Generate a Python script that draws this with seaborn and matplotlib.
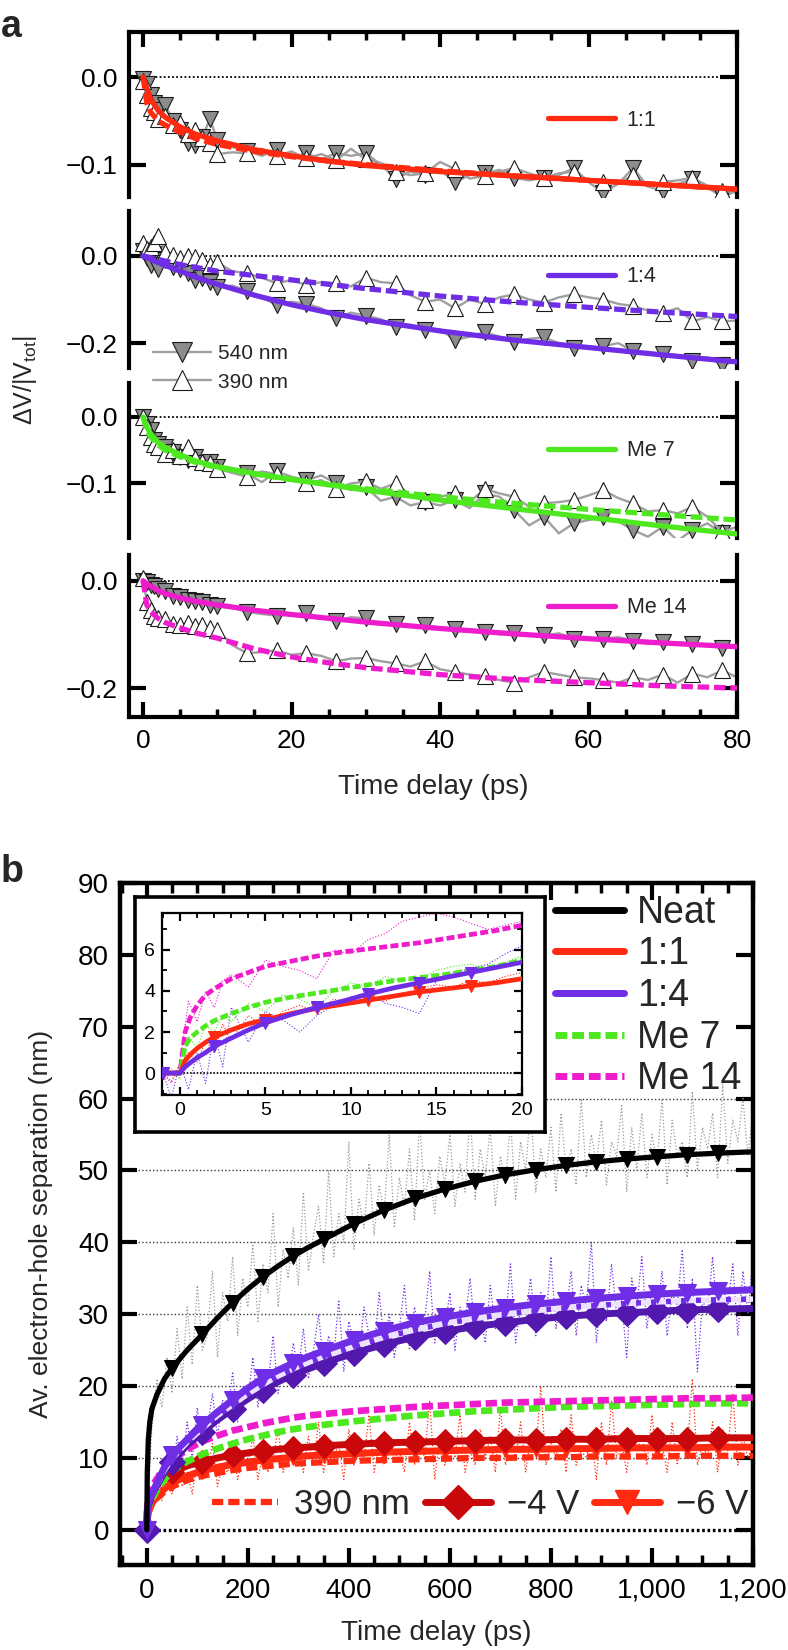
import matplotlib.pyplot as plt
from matplotlib.lines import Line2D
from matplotlib.ticker import MultipleLocator, FuncFormatter
import seaborn as sns

# ---------------- panel a data ----------------
t_raw = [0, 0.5, 1, 1.5, 2, 3, 4, 5, 6, 7, 8, 9, 10,
         12, 14, 16, 18, 20, 22, 24, 26, 28, 30, 32, 34, 36, 38, 40, 42, 44, 46,
         48, 50, 52, 54, 56, 58, 60, 62, 64, 66, 68, 70, 72, 74, 76, 78, 80]
t_fit = [0, 0.5, 1, 2, 3, 5, 7, 10, 15, 20, 25, 30, 40, 50, 60, 70, 80]

s11_540 = [-0.002, -0.008, -0.02, -0.03, -0.038, -0.032, -0.05, -0.06, -0.075, -0.078, -0.068, -0.048, -0.072,
           -0.08, -0.084, -0.09, -0.083, -0.092, -0.087, -0.094, -0.087, -0.09, -0.087, -0.1, -0.116,
           -0.108, -0.112, -0.106, -0.12, -0.112, -0.11, -0.106, -0.115, -0.118, -0.115, -0.112, -0.104,
           -0.12, -0.132, -0.122, -0.104, -0.125, -0.13, -0.122, -0.117, -0.126, -0.137, -0.13]
s11_390 = [-0.005, -0.02, -0.035, -0.04, -0.048, -0.045, -0.055, -0.052, -0.065, -0.06, -0.07, -0.075, -0.088,
           -0.086, -0.087, -0.082, -0.09, -0.085, -0.093, -0.088, -0.095, -0.082, -0.094, -0.098, -0.108,
           -0.112, -0.11, -0.097, -0.105, -0.116, -0.113, -0.108, -0.104, -0.11, -0.115, -0.11, -0.108,
           -0.118, -0.12, -0.122, -0.112, -0.125, -0.12, -0.118, -0.115, -0.124, -0.13, -0.132]
s14_540 = [0.012, -0.005, -0.02, 0.005, -0.03, -0.01, -0.025, -0.03, -0.04, -0.055, -0.05, -0.06, -0.072,
           -0.068, -0.08, -0.095, -0.113, -0.105, -0.11, -0.12, -0.143, -0.13, -0.137, -0.145, -0.163,
           -0.158, -0.17, -0.168, -0.193, -0.185, -0.175, -0.185, -0.198, -0.19, -0.187, -0.2, -0.21,
           -0.212, -0.207, -0.2, -0.218, -0.225, -0.224, -0.228, -0.24, -0.232, -0.25, -0.242]
s14_390 = [0.03, 0.015, 0.02, 0.03, 0.045, 0.01, 0.002, -0.005, 0.0, -0.002, -0.01, -0.02, -0.015,
           -0.035, -0.04, -0.05, -0.063, -0.055, -0.067, -0.06, -0.063, -0.07, -0.05, -0.06, -0.063,
           -0.09, -0.105, -0.1, -0.12, -0.1, -0.11, -0.095, -0.088, -0.1, -0.107, -0.095, -0.088,
           -0.095, -0.1, -0.11, -0.115, -0.125, -0.13, -0.12, -0.15, -0.14, -0.15, -0.148]
sme7_540 = [0.0, -0.01, -0.02, -0.035, -0.04, -0.045, -0.052, -0.06, -0.065, -0.06, -0.07, -0.068, -0.075,
            -0.082, -0.085, -0.098, -0.082, -0.09, -0.095, -0.088, -0.1, -0.11, -0.105, -0.126, -0.12,
            -0.133, -0.128, -0.133, -0.125, -0.137, -0.115, -0.12, -0.14, -0.163, -0.15, -0.175, -0.16,
            -0.155, -0.15, -0.157, -0.17, -0.18, -0.165, -0.186, -0.17, -0.16, -0.175, -0.19]
sme7_390 = [0.0, -0.015, -0.03, -0.04, -0.045, -0.055, -0.05, -0.058, -0.045, -0.062, -0.068, -0.07, -0.078,
            -0.084, -0.09, -0.082, -0.086, -0.095, -0.1, -0.095, -0.108, -0.1, -0.097, -0.108, -0.1,
            -0.118, -0.125, -0.12, -0.115, -0.128, -0.108, -0.115, -0.12, -0.135, -0.13, -0.128, -0.125,
            -0.118, -0.11, -0.122, -0.13, -0.142, -0.14, -0.145, -0.135, -0.15, -0.173, -0.165]
sme14_540 = [0.0, -0.002, -0.008, -0.01, -0.015, -0.02, -0.028, -0.03, -0.035, -0.038, -0.04, -0.045, -0.048,
             -0.05, -0.058, -0.062, -0.065, -0.063, -0.06, -0.07, -0.075, -0.068, -0.07, -0.082, -0.08,
             -0.085, -0.082, -0.088, -0.09, -0.092, -0.095, -0.1, -0.098, -0.1, -0.102, -0.098, -0.108,
             -0.11, -0.108, -0.105, -0.112, -0.118, -0.115, -0.115, -0.118, -0.122, -0.125, -0.12]
sme14_390 = [0.005, -0.04, -0.055, -0.065, -0.07, -0.072, -0.08, -0.082, -0.078, -0.085, -0.082, -0.088, -0.092,
             -0.12, -0.135, -0.133, -0.13, -0.138, -0.135, -0.14, -0.15, -0.145, -0.144, -0.15, -0.154,
             -0.16, -0.15, -0.165, -0.17, -0.175, -0.178, -0.185, -0.19, -0.18, -0.17, -0.175, -0.18,
             -0.182, -0.185, -0.19, -0.18, -0.185, -0.175, -0.19, -0.173, -0.18, -0.167, -0.18]

f11_540 = [0, -0.013, -0.025, -0.038, -0.046, -0.057, -0.065, -0.073, -0.083, -0.09, -0.096, -0.101, -0.108, -0.113, -0.118, -0.123, -0.128]
f11_390 = [0, -0.03, -0.04, -0.05, -0.055, -0.063, -0.07, -0.077, -0.085, -0.091, -0.096, -0.1, -0.107, -0.113, -0.118, -0.123, -0.128]
f14_540 = [0, -0.004, -0.008, -0.015, -0.022, -0.035, -0.048, -0.065, -0.09, -0.112, -0.13, -0.146, -0.172, -0.193, -0.21, -0.227, -0.243]
f14_390 = [0, -0.002, -0.004, -0.008, -0.012, -0.02, -0.026, -0.035, -0.045, -0.055, -0.065, -0.075, -0.092, -0.106, -0.118, -0.129, -0.139]
fme7_540 = [0, -0.015, -0.025, -0.038, -0.046, -0.057, -0.066, -0.075, -0.085, -0.094, -0.102, -0.11, -0.125, -0.138, -0.151, -0.164, -0.176]
fme7_390 = [0, -0.02, -0.03, -0.042, -0.05, -0.06, -0.068, -0.076, -0.086, -0.094, -0.101, -0.108, -0.12, -0.13, -0.139, -0.147, -0.155]
fme14_540 = [0, -0.006, -0.01, -0.018, -0.024, -0.032, -0.038, -0.045, -0.055, -0.063, -0.07, -0.077, -0.089, -0.099, -0.108, -0.116, -0.123]
fme14_390 = [0, -0.045, -0.057, -0.07, -0.078, -0.088, -0.097, -0.107, -0.127, -0.142, -0.153, -0.162, -0.175, -0.184, -0.19, -0.196, -0.2]

a_names = ['1:1', '1:4', 'Me 7', 'Me 14']

# ---------------- panel b data ----------------
t_b = [0, 1, 3, 6, 10, 20, 35, 50, 80, 110, 140, 170, 200, 230, 260, 290, 320, 350,
       410, 470, 530, 590, 650, 710, 770, 830, 890, 950, 1010, 1070, 1130, 1200]
neat = [0, 8, 12.5, 15, 16.8, 18.8, 21, 22.5, 25, 27.2, 29.5, 31.6, 33.5, 35.2, 36.7, 38.1, 39.3, 40.4,
        42.6, 44.5, 46.1, 47.4, 48.5, 49.4, 50.1, 50.7, 51.2, 51.6, 51.9, 52.2, 52.4, 52.6]
r14_6v = [0, 2.5, 3.5, 4.2, 5, 6.5, 8.7, 10.4, 12.6, 14.6, 16.4, 18.1, 19.7, 21.1, 22.2, 23.2, 24.1, 24.9,
          26.4, 27.7, 28.8, 29.6, 30.3, 30.9, 31.4, 31.8, 32.2, 32.5, 32.8, 33.0, 33.2, 33.4]
r14_4v = [0, 2.2, 3.2, 4, 4.8, 6.2, 8, 9.5, 11.8, 13.6, 15.3, 16.8, 18.2, 19.5, 20.6, 21.6, 22.4, 23.2,
          24.6, 25.8, 26.8, 27.6, 28.3, 28.8, 29.3, 29.7, 30.0, 30.2, 30.4, 30.6, 30.7, 30.8]
r14_390 = [0, 2.3, 3.3, 4.1, 4.9, 6.3, 8.3, 9.9, 12.2, 14.1, 15.9, 17.4, 18.9, 20.2, 21.4, 22.4, 23.3, 24.1,
           25.5, 26.8, 27.8, 28.7, 29.4, 30.0, 30.5, 30.9, 31.2, 31.5, 31.7, 31.9, 32.0, 32.1]
r11_4v = [0, 2.5, 3.5, 4.3, 5, 6.2, 7.3, 8, 8.9, 9.5, 10, 10.4, 10.7, 11, 11.2, 11.4, 11.5, 11.7,
          11.9, 12.1, 12.2, 12.3, 12.4, 12.5, 12.5, 12.6, 12.6, 12.7, 12.7, 12.7, 12.8, 12.8]
r11_6v = [0, 1.4, 2.3, 3, 3.7, 4.6, 5.7, 6.5, 7.5, 8.2, 8.7, 9.1, 9.4, 9.7, 9.9, 10.1, 10.3, 10.4,
          10.6, 10.8, 10.9, 11.0, 11.1, 11.2, 11.2, 11.3, 11.3, 11.4, 11.4, 11.4, 11.5, 11.5]
r11_390 = [0, 1.5, 2.3, 2.9, 3.5, 4.4, 5.3, 6, 6.9, 7.5, 7.9, 8.3, 8.6, 8.8, 9.0, 9.2, 9.3, 9.4,
           9.6, 9.7, 9.8, 9.9, 10.0, 10.0, 10.1, 10.1, 10.2, 10.2, 10.2, 10.3, 10.3, 10.3]
rme7 = [0, 2, 3, 3.6, 4.2, 5.5, 7, 8.2, 9.5, 10.5, 11.3, 12, 12.6, 13.1, 13.6, 14, 14.3, 14.6,
        15.1, 15.5, 15.9, 16.2, 16.5, 16.7, 16.9, 17.1, 17.2, 17.3, 17.4, 17.5, 17.6, 17.6]
rme14 = [0, 3.5, 4.6, 5.4, 6, 7.1, 8.5, 9.6, 11.2, 12.3, 13.1, 13.8, 14.3, 14.8, 15.2, 15.6, 15.9, 16.1,
         16.5, 16.8, 17.1, 17.3, 17.5, 17.7, 17.8, 17.9, 18.0, 18.1, 18.2, 18.3, 18.3, 18.4]

# raw traces, one value every 10 ps from 0 to 1200 ps
t_noise = list(range(0, 1201, 10))
neat_raw = [0, 14, 21, 17, 24, 19, 28, 21, 31, 23,
            34, 25, 27, 36, 24, 33, 29, 38, 27, 35,
            31, 40, 29, 37, 33, 44, 31, 39, 35, 42,
            34, 47, 36, 41, 45, 37, 50, 38, 44, 40,
            54, 39, 46, 42, 51, 41, 48, 44, 55, 42,
            49, 45, 53, 43, 57, 46, 50, 44, 52, 48,
            55, 45, 51, 47, 58, 46, 53, 49, 56, 45,
            52, 48, 57, 46, 54, 50, 59, 47, 53, 49,
            56, 47, 58, 50, 53, 48, 60, 49, 55, 51,
            57, 48, 54, 52, 59, 47, 56, 50, 58, 49,
            55, 51, 60, 48, 57, 52, 54, 49, 61, 50,
            56, 53, 58, 49, 62, 51, 57, 54, 60, 52, 58]
r14_raw = [0, 4, 8, 5, 11, 7, 13, 9, 15, 10,
           17, 12, 14, 19, 13, 18, 16, 22, 15, 20,
           18, 24, 17, 22, 20, 27, 19, 23, 21, 26,
           22, 28, 21, 25, 30, 23, 27, 24, 32, 22,
           29, 26, 24, 31, 27, 25, 33, 26, 30, 24,
           28, 34, 25, 31, 27, 29, 36, 26, 30, 28,
           33, 25, 31, 29, 35, 27, 30, 26, 34, 28,
           32, 29, 37, 26, 31, 30, 35, 27, 33, 29,
           38, 28, 32, 30, 36, 27, 34, 31, 40, 26,
           33, 29, 37, 30, 32, 24, 35, 31, 38, 28,
           34, 30, 36, 27, 33, 31, 39, 28, 35, 22,
           32, 30, 38, 29, 34, 31, 37, 27, 36, 30, 38]
r11_raw = [0, 3, 6, 4, 7, 5, 9, 6, 8, 5,
           10, 7, 8, 12, 6, 9, 8, 11, 7, 10,
           9, 13, 7, 11, 8, 10, 14, 8, 12, 9,
           11, 8, 13, 9, 15, 8, 11, 10, 12, 7,
           14, 9, 11, 10, 16, 8, 12, 9, 13, 10,
           11, 8, 15, 9, 12, 10, 18, 7, 13, 9,
           12, 10, 16, 8, 11, 9, 14, 10, 13, 8,
           17, 9, 12, 10, 15, 8, 13, 11, 20, 9,
           12, 10, 14, 8, 16, 9, 11, 10, 13, 7,
           15, 9, 18, 10, 12, 8, 14, 11, 13, 9,
           16, 10, 12, 8, 15, 9, 13, 11, 21, 9,
           12, 10, 15, 8, 14, 11, 19, 9, 13, 10, 12]

# inset (first 20 ps)
t_in = [-1, 0, 0.3, 0.6, 1, 1.5, 2, 3, 4, 5, 6.5, 8, 9.5, 11, 12.5, 14, 15.5, 17, 18.5, 20]
in_11 = [0, 0, 0.6, 0.9, 1.2, 1.5, 1.75, 2.1, 2.4, 2.6, 2.9, 3.15, 3.35, 3.55, 3.75, 3.95, 4.1, 4.25, 4.4, 4.6]
in_14 = [0, 0, 0.3, 0.5, 0.75, 1.0, 1.3, 1.7, 2.1, 2.45, 2.85, 3.2, 3.5, 3.85, 4.15, 4.4, 4.65, 4.9, 5.15, 5.4]
in_me7 = [0, 0, 1.3, 1.7, 2.0, 2.3, 2.55, 2.9, 3.2, 3.45, 3.7, 3.9, 4.1, 4.3, 4.5, 4.65, 4.8, 5.0, 5.2, 5.5]
in_me14 = [0, 0, 2.0, 2.7, 3.3, 3.8, 4.1, 4.6, 4.9, 5.2, 5.45, 5.7, 5.9, 6.05, 6.2, 6.35, 6.55, 6.75, 6.95, 7.2]
t_in_raw = [-1, -0.5, 0, 0.5, 1, 1.5, 2, 2.5, 3, 4, 5, 6, 7, 8, 9, 10, 11, 12, 13, 14, 15, 16, 17, 18, 19, 20]
in_me14_raw = [0, -0.5, 0.5, 3.5, 2.5, 4.0, 3.2, 4.5, 4.8, 4.2, 5.5, 5.2, 5.0, 4.6, 6.0, 5.8, 6.5, 6.8, 7.4, 7.6,
               7.8, 7.6, 7.3, 7.0, 7.2, 7.4]
in_me7_raw = [0, 0.2, -0.3, 1.8, 1.2, 2.3, 2.0, 2.8, 2.5, 3.4, 3.0, 3.8, 3.6, 3.2, 4.0, 4.4, 4.2, 4.7, 4.5, 4.6,
              5.0, 5.2, 5.3, 5.1, 5.4, 5.7]
in_11_raw = [0, -0.4, 0.4, 1.0, 0.5, 1.6, 1.0, 2.4, 1.6, 2.8, 2.2, 3.0, 3.3, 3.0, 3.6, 3.4, 3.7, 3.5, 3.9, 4.1,
             4.3, 4.2, 4.5, 4.4, 4.7, 4.9]
in_14_raw = [0, -1.2, 0.5, -0.8, 1.0, -0.5, 2.0, 0.3, 3.2, 1.5, 3.0, 2.6, 2.0, 2.8, 3.3, 3.6, 3.9, 3.4, 3.2, 2.9,
             4.5, 4.9, 5.1, 5.3, 5.8, 6.2]

RED, DRED = '#ff2a10', '#c8080a'
PURPLE, DPURPLE = '#6f2ee6', '#5318ad'
GREEN, MAGENTA = '#4de81e', '#ee1ccc'

sns.set_theme(style='ticks')
plt.rcParams['font.family'] = ['Liberation Sans', 'DejaVu Sans']
plt.rcParams['mathtext.default'] = 'regular'
plt.rcParams['axes.edgecolor'] = 'black'
plt.rcParams['xtick.color'] = 'black'
plt.rcParams['ytick.color'] = 'black'

W, H = 788, 1650


def px_box(x0, y0, x1, y1):
    return [x0 / W, 1 - y1 / H, (x1 - x0) / W, (y1 - y0) / H]


fig = plt.figure(figsize=(W / 100, H / 100), dpi=100)

# ---------------- panel a ----------------
a_boxes = [(129, 32, 737, 197), (129, 211, 737, 368), (129, 383, 737, 538), (129, 555, 737, 717)]
a_ylims = [(-0.137, 0.0514), (-0.257, 0.103), (-0.182, 0.051), (-0.254, 0.048)]
a_yticks = [[0.0, -0.1], [0.0, -0.2], [0.0, -0.1], [0.0, -0.2]]
a_legy = [120, 277, 451, 608]
a_colors = [RED, PURPLE, GREEN, MAGENTA]
raw540 = [s11_540, s14_540, sme7_540, sme14_540]
raw390 = [s11_390, s14_390, sme7_390, sme14_390]
fit540 = [f11_540, f14_540, fme7_540, fme14_540]
fit390 = [f11_390, f14_390, fme7_390, fme14_390]
mk_raw = [i for i, t in enumerate(t_raw) if t <= 10 or (t >= 14 and (t - 14) % 4 == 0)]
afmt = FuncFormatter(lambda v, p: f'{v:.1f}'.replace('-', '\u2212'))

for i in range(4):
    ax = fig.add_axes(px_box(*a_boxes[i]))
    ax.hlines(0, 0, 80, colors='black', linestyles=(0, (1, 1.3)), lw=1.3, zorder=1)
    sns.lineplot(x=t_raw, y=raw540[i], ax=ax, color='#a0a0a0', lw=1.7, marker='v',
                 markevery=mk_raw, markersize=11, markerfacecolor='#8c8c8c',
                 markeredgecolor='#1a1a1a', markeredgewidth=0.8, legend=False,
                 errorbar=None, zorder=2)
    sns.lineplot(x=t_raw, y=raw390[i], ax=ax, color='#a0a0a0', lw=1.7, marker='^',
                 markevery=mk_raw, markersize=11, markerfacecolor='white',
                 markeredgecolor='#1a1a1a', markeredgewidth=0.8, legend=False,
                 errorbar=None, zorder=2)
    sns.lineplot(x=t_fit, y=fit390[i], ax=ax, color=a_colors[i], lw=3.8, ls=(0, (2.2, 0.9)),
                 legend=False, errorbar=None, zorder=3)
    sns.lineplot(x=t_fit, y=fit540[i], ax=ax, color=a_colors[i], lw=3.8,
                 legend=False, errorbar=None, zorder=3)
    fit_line = ax.lines[-1]
    ax.set_xlim(-1.9, 80)
    ax.set_ylim(*a_ylims[i])
    ax.set_yticks(a_yticks[i])
    ax.yaxis.set_major_formatter(afmt)
    ax.set_xlabel('')
    ax.set_ylabel('')
    for sp in ax.spines.values():
        sp.set_linewidth(3)
    ax.spines['top'].set_visible(i == 0)
    ax.spines['bottom'].set_visible(i == 3)
    ax.tick_params(axis='y', which='major', direction='in', left=True, right=True,
                   length=12, width=3, labelsize=19, pad=8)
    ax.xaxis.set_major_locator(MultipleLocator(20))
    ax.xaxis.set_minor_locator(MultipleLocator(5))
    if i == 0:
        ax.tick_params(axis='x', which='major', direction='in', top=True, bottom=False,
                       labelbottom=False, length=11, width=3)
        ax.tick_params(axis='x', which='minor', direction='in', top=True, bottom=False,
                       length=6, width=2.5)
    elif i == 3:
        ax.tick_params(axis='x', which='major', direction='in', top=False, bottom=True,
                       length=11, width=3, labelsize=19, pad=9)
        ax.tick_params(axis='x', which='minor', direction='in', top=False, bottom=True,
                       length=6, width=2.5)
    else:
        ax.tick_params(axis='x', which='both', top=False, bottom=False, labelbottom=False)
    ax.legend(handles=[fit_line], labels=[a_names[i]], loc='center left',
              bbox_to_anchor=(548 / W, 1 - a_legy[i] / H), bbox_transform=fig.transFigure,
              frameon=False, borderpad=0, borderaxespad=0, handlelength=3.1,
              handletextpad=0.55, fontsize=15.5)

wl_handles = [Line2D([], [], color='#a0a0a0', lw=1.7, marker='v', markersize=14,
                     markerfacecolor='#8c8c8c', markeredgecolor='#1a1a1a', markeredgewidth=0.8),
              Line2D([], [], color='#a0a0a0', lw=1.7, marker='^', markersize=14,
                     markerfacecolor='white', markeredgecolor='#1a1a1a', markeredgewidth=0.8)]
fig.legend(handles=wl_handles, labels=['540 nm', '390 nm'], loc='center left',
           bbox_to_anchor=(153 / W, 1 - 368 / H), frameon=False, borderpad=0,
           borderaxespad=0, handlelength=2.8, handletextpad=0.3, labelspacing=0.45,
           fontsize=15)

fig.text(11 / W, 1 - 27 / H, 'a', fontsize=27, fontweight='bold', ha='center', va='center')
fig.text(433 / W, 1 - 787 / H, 'Time delay (ps)', fontsize=20, ha='center', va='center')
fig.text(25 / W, 1 - 380 / H, 'ΔV/|V$_{tot}$|', fontsize=18, rotation=90,
         ha='center', va='center')

# ---------------- panel b ----------------
axb = fig.add_axes(px_box(120, 883, 753, 1565))
axb.set_zorder(1)
for yv in [10, 20, 30, 40, 50, 60]:
    axb.axhline(yv, color='#3a3a3a', ls=(0, (1, 1.6)), lw=1.0, zorder=0)
axb.hlines(0, 0, 1200, colors='black', linestyles=(0, (0.8, 0.8)), lw=2.4, zorder=1)

sns.lineplot(x=t_noise, y=neat_raw, ax=axb, color='#9a9a9a', lw=0.9, ls=':',
             legend=False, errorbar=None, zorder=1)
sns.lineplot(x=t_noise, y=r14_raw, ax=axb, color=PURPLE, lw=0.9, ls=':',
             legend=False, errorbar=None, zorder=1)
sns.lineplot(x=t_noise, y=r11_raw, ax=axb, color=RED, lw=0.9, ls=':',
             legend=False, errorbar=None, zorder=1)

mk_b = [i for i, t in enumerate(t_b) if t >= 50 and (t - 50) % 60 == 0]
mk_b0 = [0] + mk_b

sns.lineplot(x=t_b, y=r11_390, ax=axb, color=RED, lw=4.5, ls=(0, (1.8, 0.8)),
             legend=False, errorbar=None, zorder=3)
sns.lineplot(x=t_b, y=r11_6v, ax=axb, color=RED, lw=5, marker='v', markevery=mk_b,
             markersize=12, markeredgecolor=RED, legend=False, errorbar=None, zorder=3)
sns.lineplot(x=t_b, y=r11_4v, ax=axb, color=DRED, lw=5, marker='D', markevery=mk_b,
             markersize=12, markeredgecolor=DRED, legend=False, errorbar=None, zorder=3)
sns.lineplot(x=t_b, y=rme7, ax=axb, color=GREEN, lw=4.8, ls=(0, (1.7, 0.7)),
             legend=False, errorbar=None, zorder=3)
sns.lineplot(x=t_b, y=rme14, ax=axb, color=MAGENTA, lw=4.8, ls=(0, (1.7, 0.7)),
             legend=False, errorbar=None, zorder=3)
sns.lineplot(x=t_b, y=r14_4v, ax=axb, color=DPURPLE, lw=5, marker='D', markevery=mk_b0,
             markersize=13, markeredgecolor=DPURPLE, legend=False, errorbar=None, zorder=3)
sns.lineplot(x=t_b, y=r14_390, ax=axb, color='#ece2ff', gapcolor=PURPLE, lw=4,
             ls=(0, (1.8, 0.9)), legend=False, errorbar=None, zorder=3)
sns.lineplot(x=t_b, y=r14_6v, ax=axb, color=PURPLE, lw=5, marker='v', markevery=mk_b0,
             markersize=13, markeredgecolor=PURPLE, legend=False, errorbar=None, zorder=3)
sns.lineplot(x=t_b, y=neat, ax=axb, color='black', lw=3.8, marker='v', markevery=mk_b,
             markersize=12, markeredgecolor='black', legend=False, errorbar=None, zorder=4)

axb.set_xlim(-53, 1200)
axb.set_ylim(-4.9, 90)
axb.set_xlabel('')
axb.set_ylabel('')
axb.xaxis.set_major_locator(MultipleLocator(200))
axb.xaxis.set_minor_locator(MultipleLocator(50))
axb.yaxis.set_major_locator(MultipleLocator(10))
axb.xaxis.set_major_formatter(FuncFormatter(lambda v, p: f'{int(round(v)):,}'))
for sp in axb.spines.values():
    sp.set_linewidth(3.2)
axb.tick_params(axis='x', which='major', direction='in', top=True, bottom=True,
                length=12, width=3, labelsize=20, pad=9)
axb.tick_params(axis='x', which='minor', direction='in', top=True, bottom=True,
                length=7, width=2.5)
axb.tick_params(axis='y', which='major', direction='in', left=True, right=True,
                length=12, width=3, labelsize=20, pad=8)

main_handles = [Line2D([], [], color='black', lw=5),
                Line2D([], [], color=RED, lw=5),
                Line2D([], [], color=PURPLE, lw=5),
                Line2D([], [], color=GREEN, lw=5, ls=(0, (1.7, 0.7))),
                Line2D([], [], color=MAGENTA, lw=5, ls=(0, (1.7, 0.7)))]
leg_main = axb.legend(handles=main_handles, labels=['Neat', '1:1', '1:4', 'Me 7', 'Me 14'],
                      loc='center left', bbox_to_anchor=(555 / W, 1 - 996 / H),
                      bbox_transform=fig.transFigure, frameon=False, borderpad=0,
                      borderaxespad=0, handlelength=1.85, handletextpad=0.33,
                      labelspacing=0.15, fontsize=27)
axb.add_artist(leg_main)
bot_handles = [Line2D([], [], color=RED, lw=4.5, ls=(0, (1.8, 0.8))),
               Line2D([], [], color=DRED, lw=5, marker='D', markersize=17),
               Line2D([], [], color=RED, lw=5, marker='v', markersize=17)]
axb.legend(handles=bot_handles, labels=['390 nm', '\u22124 V', '\u22126 V'], ncol=3,
           loc='center left', bbox_to_anchor=(212 / W, 1 - 1505 / H),
           bbox_transform=fig.transFigure, frameon=False, borderpad=0, borderaxespad=0,
           handlelength=1.9, handletextpad=0.45, columnspacing=0.45, fontsize=25)

# inset frame and inset
axf = fig.add_axes(px_box(135, 897, 545, 1132))
axf.set_zorder(5)
axf.set_facecolor('white')
axf.set_xticks([])
axf.set_yticks([])
for sp in axf.spines.values():
    sp.set_linewidth(2.6)

axi = fig.add_axes(px_box(162, 913, 522, 1095))
axi.set_zorder(6)
axi.hlines(0, 0, 20, colors='black', linestyles=(0, (1, 1)), lw=1.2, zorder=1)
sns.lineplot(x=t_in_raw, y=in_me14_raw, ax=axi, color=MAGENTA, lw=0.8, ls=':',
             legend=False, errorbar=None, zorder=1)
sns.lineplot(x=t_in_raw, y=in_me7_raw, ax=axi, color=GREEN, lw=0.8, ls=':',
             legend=False, errorbar=None, zorder=1)
sns.lineplot(x=t_in_raw, y=in_11_raw, ax=axi, color=RED, lw=0.8, ls=':',
             legend=False, errorbar=None, zorder=1)
sns.lineplot(x=t_in_raw, y=in_14_raw, ax=axi, color=PURPLE, lw=0.8, ls=':',
             legend=False, errorbar=None, zorder=1)
mk_in = [i for i, t in enumerate(t_in) if t in (-1, 2, 5, 8, 11, 14, 17)]
sns.lineplot(x=t_in, y=in_me14, ax=axi, color=MAGENTA, lw=3.4, ls=(0, (1.7, 0.7)),
             legend=False, errorbar=None, zorder=3)
sns.lineplot(x=t_in, y=in_me7, ax=axi, color=GREEN, lw=3.4, ls=(0, (1.7, 0.7)),
             legend=False, errorbar=None, zorder=3)
sns.lineplot(x=t_in, y=in_11, ax=axi, color=RED, lw=3.4, marker='v', markevery=mk_in,
             markersize=9, markeredgecolor=RED, legend=False, errorbar=None, zorder=3)
sns.lineplot(x=t_in, y=in_14, ax=axi, color=PURPLE, lw=3.4, marker='v', markevery=mk_in,
             markersize=9, markeredgecolor=PURPLE, legend=False, errorbar=None, zorder=3)
axi.set_xlim(-1.05, 20)
axi.set_ylim(-1.07, 7.8)
axi.set_xlabel('')
axi.set_ylabel('')
axi.xaxis.set_major_locator(MultipleLocator(5))
axi.xaxis.set_minor_locator(MultipleLocator(1))
axi.yaxis.set_major_locator(MultipleLocator(2))
axi.yaxis.set_minor_locator(MultipleLocator(1))
for sp in axi.spines.values():
    sp.set_linewidth(1.6)
axi.tick_params(which='major', direction='in', top=True, bottom=True, left=True, right=True,
                length=6, width=1.6, labelsize=14, pad=5)
axi.tick_params(which='minor', direction='in', top=True, bottom=True, left=True, right=True,
                length=3.5, width=1.3)

fig.text(12 / W, 1 - 872 / H, 'b', fontsize=27, fontweight='bold', ha='center', va='center')
fig.text(436 / W, 1 - 1633 / H, 'Time delay (ps)', fontsize=20, ha='center', va='center')
fig.text(41 / W, 1 - 1224 / H, 'Av. electron-hole separation (nm)', fontsize=19,
         rotation=90, ha='center', va='center')

fig.savefig('out.png', dpi=100)
